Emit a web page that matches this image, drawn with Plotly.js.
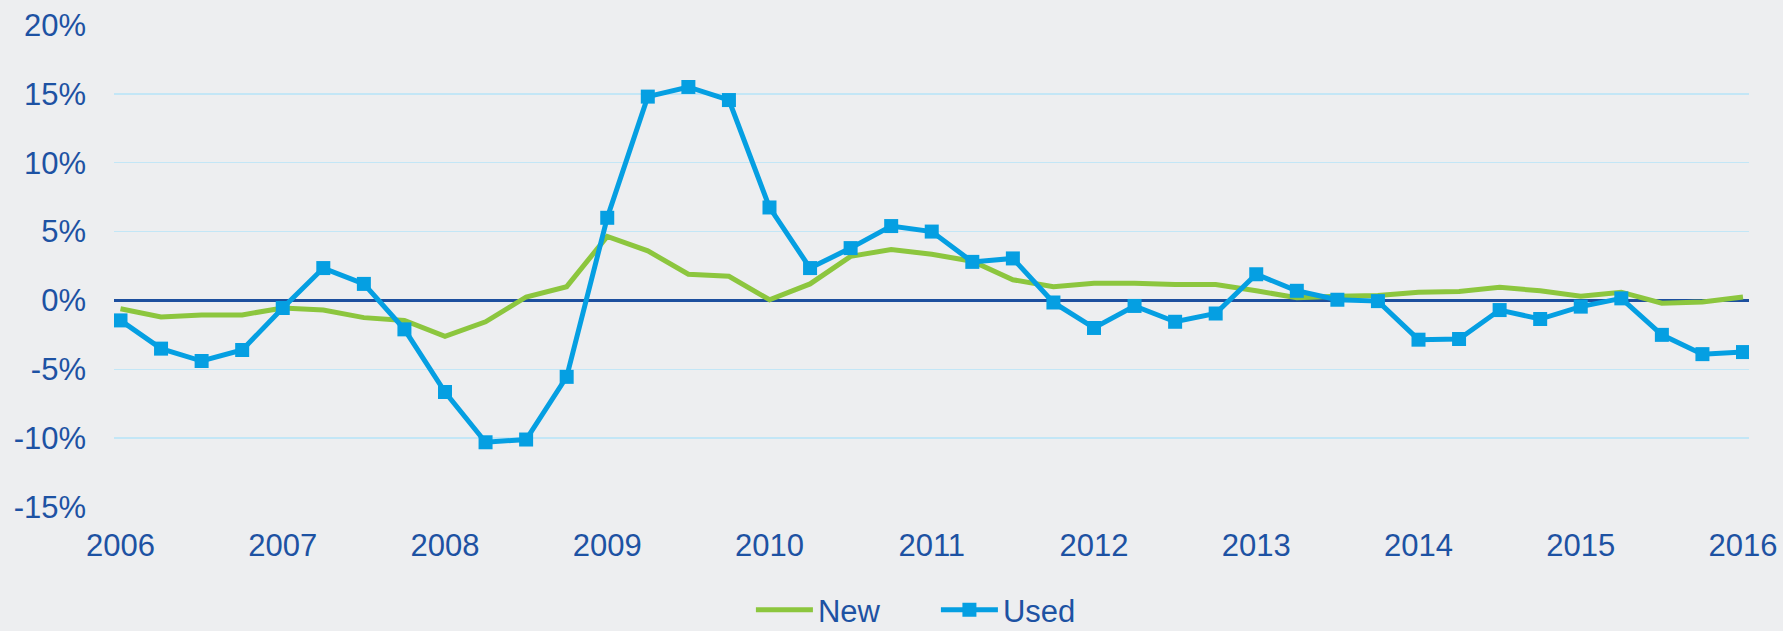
<!DOCTYPE html>
<html>
<head>
<meta charset="utf-8">
<script src="https://cdn.plot.ly/plotly-3.0.1.min.js"></script>
<style>html,body{margin:0;padding:0;background:#EDEEF0;}#chart{width:1783px;height:631px;}</style>
</head>
<body>
<div id="chart"></div>
<script>
// Quarterly periods, 2006 Q1 .. 2016 Q1 (decimal years)
const quarters = [
  2006.00, 2006.25, 2006.50, 2006.75,
  2007.00, 2007.25, 2007.50, 2007.75,
  2008.00, 2008.25, 2008.50, 2008.75,
  2009.00, 2009.25, 2009.50, 2009.75,
  2010.00, 2010.25, 2010.50, 2010.75,
  2011.00, 2011.25, 2011.50, 2011.75,
  2012.00, 2012.25, 2012.50, 2012.75,
  2013.00, 2013.25, 2013.50, 2013.75,
  2014.00, 2014.25, 2014.50, 2014.75,
  2015.00, 2015.25, 2015.50, 2015.75,
  2016.00
];
// Year-over-year change, percent
const newValues = [
  -0.6, -1.2, -1.05, -1.05,
  -0.55, -0.7, -1.25, -1.45,
  -2.6, -1.55, 0.25, 1.0,
  4.65, 3.6, 1.9, 1.75,
  0.05, 1.2, 3.2, 3.7,
  3.35, 2.85, 1.5, 1.0,
  1.25, 1.25, 1.15, 1.15,
  0.7, 0.2, 0.3, 0.35,
  0.6, 0.65, 0.95, 0.7,
  0.3, 0.6, -0.2, -0.12,
  0.25
];
const usedValues = [
  -1.45, -3.5, -4.4, -3.6,
  -0.55, 2.35, 1.2, -2.1,
  -6.65, -10.3, -10.1, -5.55,
  6.0, 14.8, 15.5, 14.55,
  6.75, 2.35, 3.8, 5.4,
  5.0, 2.8, 3.05, -0.15,
  -2.0, -0.4, -1.55, -0.95,
  1.9, 0.7, 0.05, -0.05,
  -2.85, -2.8, -0.7, -1.35,
  -0.45, 0.15, -2.5, -3.9,
  -3.75
];
const seriesNames = ['New', 'Used'];
const yTickVals = [-15, -10, -5, 0, 5, 10, 15, 20];
const yTickText = ['-15%', '-10%', '-5%', '0%', '5%', '10%', '15%', '20%'];
const xTickVals = [2006, 2007, 2008, 2009, 2010, 2011, 2012, 2013, 2014, 2015, 2016];
const xTickText = ['2006', '2007', '2008', '2009', '2010', '2011', '2012', '2013', '2014', '2015', '2016'];

const textColor = '#1D52A3';
const traces = [
  {
    x: quarters, y: newValues, name: seriesNames[0], type: 'scatter', mode: 'lines',
    line: {color: '#8CC63E', width: 5}
  },
  {
    x: quarters, y: usedValues, name: seriesNames[1], type: 'scatter', mode: 'lines+markers',
    line: {color: '#059FE2', width: 5},
    marker: {symbol: 'square', size: 14, color: '#059FE2'}
  }
];
const layout = {
  width: 1783, height: 631,
  paper_bgcolor: '#EDEEF0', plot_bgcolor: '#EDEEF0',
  margin: {l: 114, r: 34, t: 25, b: 124, autoexpand: false},
  font: {family: 'Liberation Sans, Arial, sans-serif', size: 31, color: textColor},
  showlegend: true,
  legend: {orientation: 'h', x: 0.5027, xanchor: 'center', y: -0.214, yanchor: 'middle',
           font: {size: 31, color: textColor}, bgcolor: 'rgba(0,0,0,0)', itemwidth: 57,
           entrywidth: 113, entrywidthmode: 'pixels', tracegroupgap: 0},
  xaxis: {
    range: [2005.96, 2016.037], tickvals: xTickVals, ticktext: xTickText,
    showgrid: false, zeroline: false, showline: false, ticks: '',
    tickfont: {size: 31, color: textColor}, ticklabelstandoff: 17
  },
  yaxis: {
    range: [-15, 20], tickvals: yTickVals, ticktext: yTickText,
    showgrid: true, gridcolor: '#C3E6F6', gridwidth: 1.5,
    zeroline: true, zerolinecolor: '#1D4F9E', zerolinewidth: 2.5,
    showline: false, ticks: '', tickfont: {size: 31, color: textColor}, ticklabelstandoff: 27
  }
};
Plotly.newPlot('chart', traces, layout, {displayModeBar: false, staticPlot: true});
</script>
</body>
</html>
